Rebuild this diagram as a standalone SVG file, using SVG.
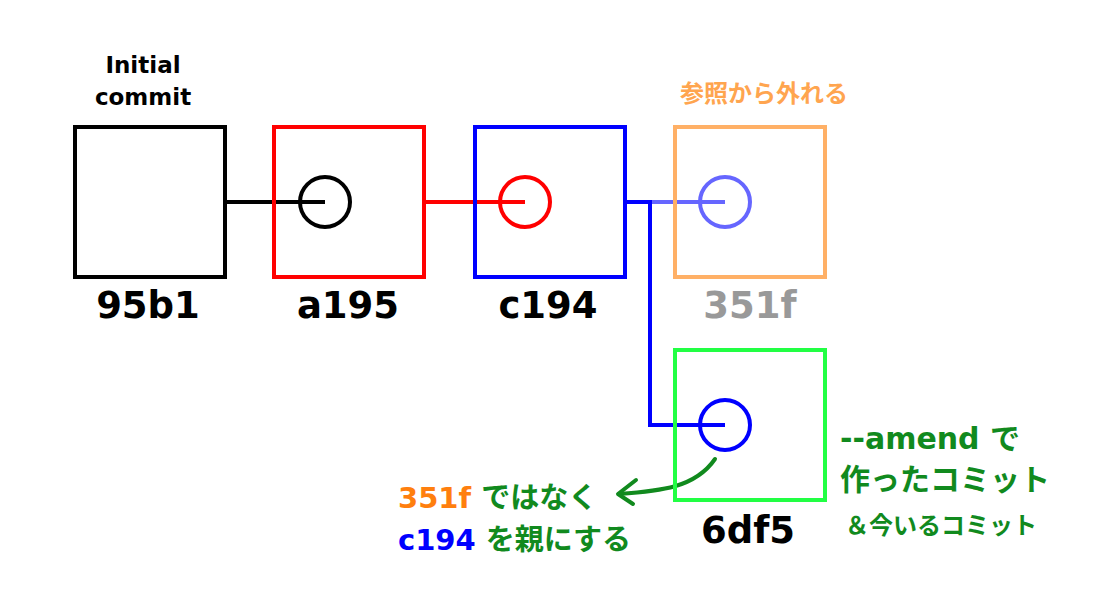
<svg xmlns="http://www.w3.org/2000/svg" width="1100" height="600" viewBox="0 0 1100 600">
<style>
  .box{fill:none;stroke-width:4}
  .c{fill:none;stroke-width:4}
  .ln{fill:none;stroke-width:4;stroke-linecap:butt}
  .t{font-family:"DejaVu Sans","Noto Sans CJK JP",sans-serif;font-weight:bold}
  .id{font-size:37px;text-anchor:middle}
  .g{fill:#118a1e}
</style>
<rect width="1100" height="600" fill="#fff"/>
<g id="connectors">
  <line class="ln" x1="225" y1="202" x2="325" y2="202" stroke="#000"/>
  <line class="ln" x1="424" y1="202" x2="525" y2="202" stroke="#ff0000"/>
  <line class="ln" x1="625" y1="202" x2="652" y2="202" stroke="#0000ff"/>
  <line class="ln" x1="652" y1="202" x2="725" y2="202" stroke="#6666ff"/>
  <polyline class="ln" points="650,200 650,425 725,425" stroke="#0000ff"/>
  <path d="M715,459 C695,488 660,491 619,494" fill="none" stroke="#118a1e" stroke-width="4" stroke-linecap="round"/>
  <polyline points="636,480 618,494 633,504" fill="none" stroke="#118a1e" stroke-width="4" stroke-linecap="round" stroke-linejoin="round"/>
</g>
<g id="n95b1">
  <rect class="box" x="75" y="127" width="150" height="150" stroke="#000"/>
  <text class="t" x="143" y="73" font-size="23" text-anchor="middle">Initial</text>
  <text class="t" x="143" y="105" font-size="23" text-anchor="middle">commit</text>
  <text class="t id" x="148" y="318">95b1</text>
</g>
<g id="na195">
  <rect class="box" x="274" y="127" width="150" height="150" stroke="#ff0000"/>
  <circle class="c" cx="325" cy="202" r="25" stroke="#000"/>
  <text class="t id" x="348" y="318">a195</text>
</g>
<g id="nc194">
  <rect class="box" x="475" y="127" width="150" height="150" stroke="#0000ff"/>
  <circle class="c" cx="525" cy="202" r="25" stroke="#ff0000"/>
  <text class="t id" x="548" y="318">c194</text>
</g>
<g id="n351f">
  <rect class="box" x="675" y="127" width="150" height="150" stroke="#ffb066"/>
  <circle class="c" cx="725" cy="202" r="25" stroke="#6666ff"/>
  <text class="t" x="680" y="102" font-size="24" fill="#ffa54f">参照から外れる</text>
  <text class="t id" x="750" y="318" fill="#999999">351f</text>
</g>
<g id="n6df5">
  <rect class="box" x="675" y="350" width="150" height="150" stroke="#22ff44"/>
  <circle class="c" cx="725" cy="425" r="25" stroke="#0000ff"/>
  <text class="t id" x="748" y="543">6df5</text>
  <text class="t g" x="840" y="449" font-size="30">--amend で</text>
  <text class="t g" x="840" y="490" font-size="30">作ったコミット</text>
  <text class="t g" x="845" y="534" font-size="24">＆今いるコミット</text>
</g>
<g id="note">
  <text class="t" x="398" y="508" font-size="29"><tspan fill="#ff7f0e">351f</tspan><tspan class="g"> ではなく</tspan></text>
  <text class="t" x="398" y="550" font-size="29"><tspan fill="#0000ff">c194</tspan><tspan class="g"> を親にする</tspan></text>
</g>
</svg>
